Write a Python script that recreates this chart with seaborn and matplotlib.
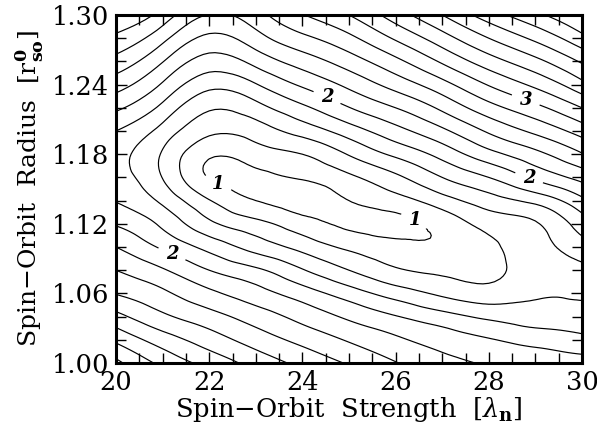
import numpy as np
import matplotlib
matplotlib.use("Agg")
import matplotlib.pyplot as plt
from matplotlib.ticker import MultipleLocator, FormatStrFormatter
from matplotlib.tri import Triangulation, UniformTriRefiner, CubicTriInterpolator
import seaborn as sns

# ---- data ----
strength = [20, 21, 22, 23, 24, 25, 26, 27, 28, 29, 30]          # lambda_n
radius = [1.00, 1.02, 1.04, 1.06, 1.08, 1.10, 1.12, 1.14,
          1.16, 1.18, 1.20, 1.22, 1.24, 1.26, 1.28, 1.30]          # r_so

# chi^2 per nucleon values along radius, one list per strength column
chi_20 = [3.45, 3.157, 2.862, 2.590, 2.40, 2.20, 1.98, 1.791, 1.699, 1.664, 1.80, 2.038, 2.288, 2.529, 2.756, 2.97]
chi_21 = [3.148, 2.90, 2.64, 2.44, 2.222, 1.968, 1.758, 1.557, 1.394, 1.38, 1.526, 1.744, 1.976, 2.21, 2.46, 2.72]
chi_22 = [2.93, 2.70, 2.478, 2.247, 2.0, 1.733, 1.446, 1.211, 0.99, 1.035, 1.243, 1.424, 1.663, 1.913, 2.153, 2.39]
chi_23 = [2.725, 2.51, 2.305, 2.082, 1.838, 1.52, 1.263, 1.0, 0.955, 1.10, 1.295, 1.525, 1.787, 2.067, 2.318, 2.52]
chi_24 = [2.545, 2.34, 2.133, 1.90, 1.615, 1.333, 1.082, 0.922, 1.018, 1.20, 1.48, 1.757, 2.032, 2.293, 2.55, 2.79]
chi_25 = [2.379, 2.179, 1.963, 1.70, 1.40, 1.158, 0.965, 1.0, 1.16, 1.414, 1.70, 1.993, 2.25, 2.50, 2.75, 3.0]
chi_26 = [2.21, 2.035, 1.812, 1.509, 1.225, 1.056, 0.951, 1.118, 1.357, 1.643, 1.929, 2.20, 2.48, 2.747, 3.027, 3.3]
chi_27 = [2.064, 1.914, 1.677, 1.36, 1.159, 1.035, 1.07, 1.314, 1.60, 1.871, 2.157, 2.443, 2.729, 3.029, 3.314, 3.6]
chi_28 = [1.98, 1.816, 1.557, 1.28, 1.159, 1.16, 1.27, 1.508, 1.80, 2.129, 2.429, 2.723, 3.014, 3.308, 3.6, 3.9]
chi_29 = [1.94, 1.725, 1.50, 1.37, 1.289, 1.318, 1.381, 1.66, 2.046, 2.343, 2.646, 2.943, 3.246, 3.543, 3.846, 4.15]
chi_30 = [1.90, 1.65, 1.49, 1.375, 1.37, 1.508, 1.70, 1.95, 2.267, 2.585, 2.886, 3.2, 3.538, 3.825, 4.138, 4.4]

plain_levels = [1.2, 1.4, 1.6, 1.8, 2.2, 2.4, 2.6, 2.8,
                3.2, 3.4, 3.6, 3.8, 4.0, 4.2, 4.4]
label_levels = [1.0, 2.0, 3.0]
label_x = [22.19, 26.37, 24.53, 28.85, 21.19, 28.76]
label_y = [1.155, 1.120, 1.229, 1.158, 1.093, 1.223]

x_ticks = [20, 22, 24, 26, 28, 30]
y_ticks = [1.00, 1.06, 1.12, 1.18, 1.24, 1.30]

# ---- style ----
sns.set_theme(style="ticks")
plt.rcParams.update({
    "font.family": ["DejaVu Serif"],
    "mathtext.fontset": "dejavuserif",
    "axes.linewidth": 2.2,
    "axes.edgecolor": "black",
    "xtick.color": "black",
    "ytick.color": "black",
    "text.color": "black",
    "axes.labelcolor": "black",
})

fig = plt.figure(figsize=(5.97, 4.26), dpi=100)
ax = fig.add_axes([116 / 597, 63 / 426, 466 / 597, 348 / 426])

Z = np.array([chi_20, chi_21, chi_22, chi_23, chi_24, chi_25,
              chi_26, chi_27, chi_28, chi_29, chi_30]).T
X, Y = np.meshgrid(strength, radius)
ny, nx = Z.shape
yscale = 33.0  # make grid cells roughly square for the triangulation
tris = []
for j in range(ny - 1):
    for i in range(nx - 1):
        a = j * nx + i
        b = a + 1
        c = a + nx
        d = c + 1
        tris.append([a, b, d])
        tris.append([a, d, c])
tri_s = Triangulation(X.ravel(), Y.ravel() * yscale, np.array(tris))
interp = CubicTriInterpolator(tri_s, Z.ravel(), kind="min_E")
refiner = UniformTriRefiner(tri_s)
tri_f, z_f = refiner.refine_field(Z.ravel(), triinterpolator=interp, subdiv=3)
tri_plot = Triangulation(tri_f.x, tri_f.y / yscale, tri_f.triangles)

ax.tricontour(tri_plot, z_f, levels=plain_levels, colors="black",
              linewidths=0.85)
cs = ax.tricontour(tri_plot, z_f, levels=label_levels, colors="black",
                   linewidths=0.85)
texts = ax.clabel(cs, manual=list(zip(label_x, label_y)),
                  fmt=lambda v: f"{v:.0f}", fontsize=13, inline=True,
                  inline_spacing=9)
for t in texts:
    t.set_rotation(0)
    t.set_fontstyle("italic")
    t.set_fontweight("bold")

ax.set_xlim(20, 30)
ax.set_ylim(1.00, 1.30)
ax.set_xticks(x_ticks)
ax.set_yticks(y_ticks)
ax.xaxis.set_minor_locator(MultipleLocator(0.5))
ax.yaxis.set_minor_locator(MultipleLocator(0.02))
ax.yaxis.set_major_formatter(FormatStrFormatter("%.2f"))
ax.tick_params(which="both", direction="in", top=True, right=True,
               width=1.0, labelsize=18.5)
ax.tick_params(which="major", length=8, pad=5)
ax.tick_params(which="minor", length=7)

ax.set_xlabel(r"Spin$-$Orbit  Strength  [$\lambda_{\mathbf{n}}$]", fontsize=18.5, labelpad=0)
ax.set_ylabel(r"Spin$-$Orbit  Radius  [r$^{\mathbf{0}}_{\mathbf{so}}$]", fontsize=18, labelpad=4)

fig.savefig("out.png", dpi=100)
